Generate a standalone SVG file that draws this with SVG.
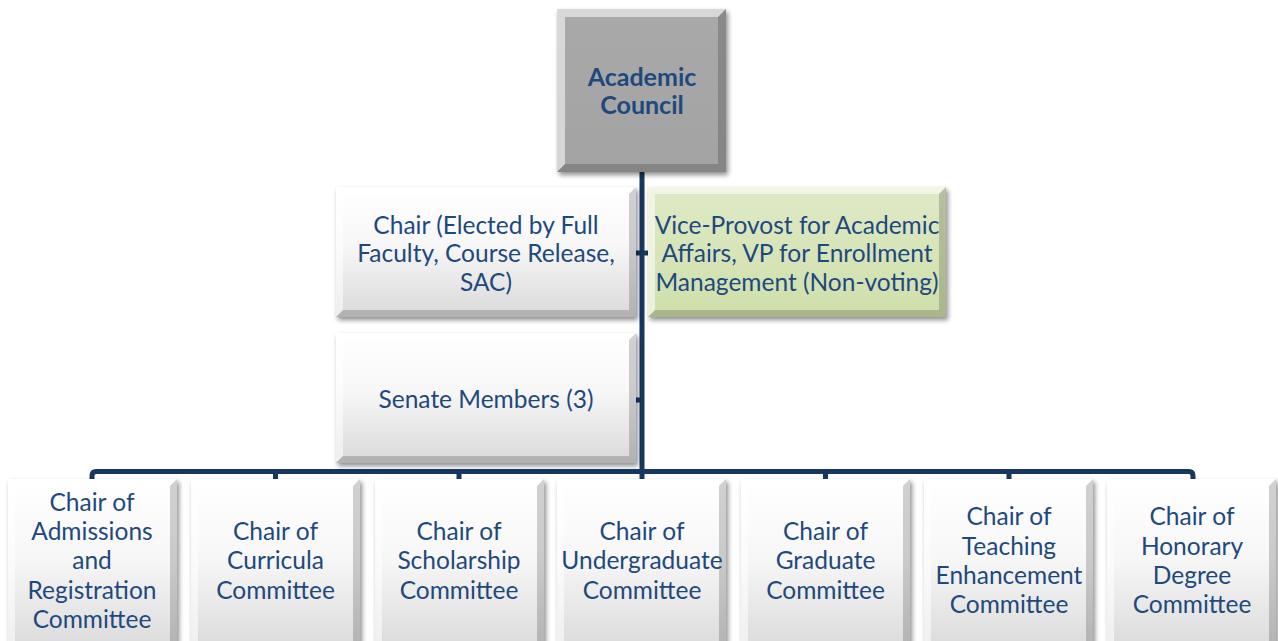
<svg xmlns="http://www.w3.org/2000/svg" width="1278" height="641" viewBox="0 0 1278 641">
<style>
.t{font-family:Lato,"Liberation Sans",sans-serif;font-size:24.5px;fill:#1F497D;text-anchor:middle}
.b{font-weight:bold;font-size:25px}
.ln{stroke:#17375E;stroke-width:5;fill:none}
.hl{fill:#ffffff;opacity:0.55}
.sh{fill:#000000;opacity:0.18}
</style>
<defs>
<linearGradient id="gw" x1="0" y1="0" x2="0" y2="1">
<stop offset="0" stop-color="#ffffff"/><stop offset="0.45" stop-color="#f7f7f7"/><stop offset="1" stop-color="#d9d9d9"/>
</linearGradient>
<linearGradient id="gg" x1="0" y1="0" x2="0" y2="1">
<stop offset="0" stop-color="#a9a9a9"/><stop offset="1" stop-color="#a3a3a3"/>
</linearGradient>
<linearGradient id="gn" x1="0" y1="0" x2="0" y2="1">
<stop offset="0" stop-color="#dfeac6"/><stop offset="1" stop-color="#cfdfab"/>
</linearGradient>
<filter id="ds" x="-10%" y="-10%" width="125%" height="125%">
<feGaussianBlur in="SourceAlpha" stdDeviation="2.5"/><feOffset dx="2" dy="3"/>
<feComponentTransfer><feFuncA type="linear" slope="0.45"/></feComponentTransfer>
<feMerge><feMergeNode/><feMergeNode in="SourceGraphic"/></feMerge>
</filter>
</defs>

<g id="connectors">
<line class="ln" x1="642" y1="172" x2="642" y2="472"/>
<line class="ln" x1="636" y1="253" x2="648" y2="253"/>
<line class="ln" x1="636" y1="400" x2="642" y2="400"/>
<path class="ln" d="M92 480 V476 Q92 471.5 96 471.5 H1189 Q1193 471.5 1193 476 V480"/>
<line class="ln" x1="275.5" y1="471" x2="275.5" y2="480"/>
<line class="ln" x1="459" y1="471" x2="459" y2="480"/>
<line class="ln" x1="642" y1="471" x2="642" y2="480"/>
<line class="ln" x1="825.5" y1="471" x2="825.5" y2="480"/>
<line class="ln" x1="1009" y1="471" x2="1009" y2="480"/>
</g>

<g id="academic-council">
<rect x="557" y="9" width="169" height="163" fill="url(#gg)" filter="url(#ds)"/>
<path class="hl" d="M557 9 H726 L718 17 H565 V164 L557 172 Z"/>
<path class="sh" d="M726 9 V172 H557 L565 164 H718 V17 Z"/>
<text class="t b" x="642" y="86">Academic</text>
<text class="t b" x="642" y="114">Council</text>
</g>

<g id="chair">
<rect x="336" y="187" width="300" height="130" fill="url(#gw)" filter="url(#ds)"/>
<path class="hl" d="M336 187 H636 L629 194 H343 V310 L336 317 Z"/>
<path class="sh" d="M636 187 V317 H336 L343 310 H629 V194 Z"/>
<text class="t" x="486" y="234">Chair (Elected by Full</text>
<text class="t" x="486" y="262">Faculty, Course Release,</text>
<text class="t" x="486" y="291">SAC)</text>
</g>

<g id="vice-provost">
<rect x="648" y="187" width="298" height="130" fill="url(#gn)" filter="url(#ds)"/>
<path class="hl" d="M648 187 H946 L939 194 H655 V310 L648 317 Z"/>
<path class="sh" d="M946 187 V317 H648 L655 310 H939 V194 Z"/>
<text class="t" x="797" y="234">Vice-Provost for Academic</text>
<text class="t" x="797" y="262">Affairs, VP for Enrollment</text>
<text class="t" x="797" y="291">Management (Non-voting)</text>
</g>

<g id="senate">
<rect x="336" y="333" width="300" height="130" fill="url(#gw)" filter="url(#ds)"/>
<path class="hl" d="M336 333 H636 L629 340 H343 V456 L336 463 Z"/>
<path class="sh" d="M636 333 V463 H336 L343 456 H629 V340 Z"/>
<text class="t" x="486" y="408">Senate Members (3)</text>
</g>

<g id="admissions">
<rect x="8" y="479" width="169" height="175" fill="url(#gw)" filter="url(#ds)"/>
<path class="hl" d="M8 479 H177 L170 486 H15 V654 L8 654 Z"/>
<path class="sh" d="M177 479 V654 H170 V486 Z"/>
<text class="t" x="92" y="511">Chair of</text>
<text class="t" x="92" y="540">Admissions</text>
<text class="t" x="92" y="569">and</text>
<text class="t" x="92" y="599">Registration</text>
<text class="t" x="92" y="628">Committee</text>
</g>

<g id="curricula">
<rect x="191" y="479" width="169" height="175" fill="url(#gw)" filter="url(#ds)"/>
<path class="hl" d="M191 479 H360 L353 486 H198 V654 L191 654 Z"/>
<path class="sh" d="M360 479 V654 H353 V486 Z"/>
<text class="t" x="275.5" y="540">Chair of</text>
<text class="t" x="275.5" y="569">Curricula</text>
<text class="t" x="275.5" y="599">Committee</text>
</g>

<g id="scholarship">
<rect x="375" y="479" width="169" height="175" fill="url(#gw)" filter="url(#ds)"/>
<path class="hl" d="M375 479 H544 L537 486 H382 V654 L375 654 Z"/>
<path class="sh" d="M544 479 V654 H537 V486 Z"/>
<text class="t" x="459" y="540">Chair of</text>
<text class="t" x="459" y="569">Scholarship</text>
<text class="t" x="459" y="599">Committee</text>
</g>

<g id="undergraduate">
<rect x="557" y="479" width="169" height="175" fill="url(#gw)" filter="url(#ds)"/>
<path class="hl" d="M557 479 H726 L719 486 H564 V654 L557 654 Z"/>
<path class="sh" d="M726 479 V654 H719 V486 Z"/>
<text class="t" x="642" y="540">Chair of</text>
<text class="t" x="642" y="569">Undergraduate</text>
<text class="t" x="642" y="599">Committee</text>
</g>

<g id="graduate">
<rect x="741" y="479" width="169" height="175" fill="url(#gw)" filter="url(#ds)"/>
<path class="hl" d="M741 479 H910 L903 486 H748 V654 L741 654 Z"/>
<path class="sh" d="M910 479 V654 H903 V486 Z"/>
<text class="t" x="825.5" y="540">Chair of</text>
<text class="t" x="825.5" y="569">Graduate</text>
<text class="t" x="825.5" y="599">Committee</text>
</g>

<g id="teaching">
<rect x="924" y="479" width="169" height="175" fill="url(#gw)" filter="url(#ds)"/>
<path class="hl" d="M924 479 H1093 L1086 486 H931 V654 L924 654 Z"/>
<path class="sh" d="M1093 479 V654 H1086 V486 Z"/>
<text class="t" x="1009" y="525">Chair of</text>
<text class="t" x="1009" y="555">Teaching</text>
<text class="t" x="1009" y="584">Enhancement</text>
<text class="t" x="1009" y="613">Committee</text>
</g>

<g id="honorary">
<rect x="1107" y="479" width="169" height="175" fill="url(#gw)" filter="url(#ds)"/>
<path class="hl" d="M1107 479 H1276 L1269 486 H1114 V654 L1107 654 Z"/>
<path class="sh" d="M1276 479 V654 H1269 V486 Z"/>
<text class="t" x="1192" y="525">Chair of</text>
<text class="t" x="1192" y="555">Honorary</text>
<text class="t" x="1192" y="584">Degree</text>
<text class="t" x="1192" y="613">Committee</text>
</g>
</svg>
